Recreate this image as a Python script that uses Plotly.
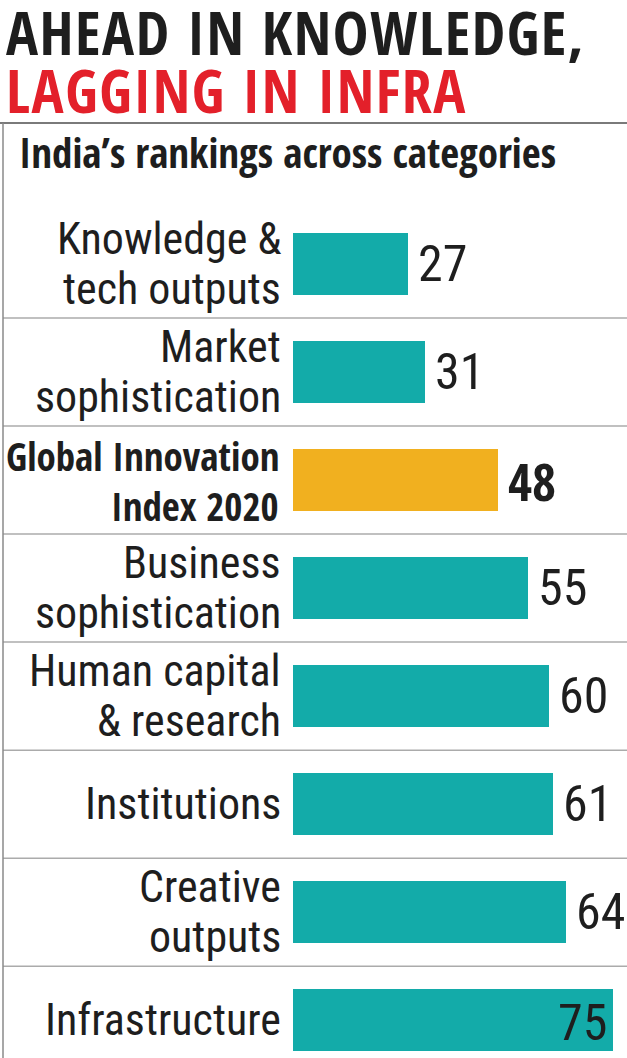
import plotly.graph_objects as go

# ---- data ----
categories = [
    "Knowledge & tech outputs",
    "Market sophistication",
    "Global Innovation Index 2020",
    "Business sophistication",
    "Human capital & research",
    "Institutions",
    "Creative outputs",
    "Infrastructure",
]
label_lines = [
    ["Knowledge &", "tech outputs"],
    ["Market", "sophistication"],
    ["Global Innovation", "Index 2020"],
    ["Business", "sophistication"],
    ["Human capital", "& research"],
    ["Institutions"],
    ["Creative", "outputs"],
    ["Infrastructure"],
]
ranks = [27, 31, 48, 55, 60, 61, 64, 75]
highlight = "Global Innovation Index 2020"
title_line1 = "AHEAD IN KNOWLEDGE,"
title_line2 = "LAGGING IN INFRA"
subtitle = "India\u2019s rankings across categories"

# ---- style / layout ----
W, H = 627, 1058
TOP = 210
TEAL = "#13aba9"
GOLD = "#f1b01f"
RED = "#e3202a"
INK = "#1e1e1e"
SEP = "#ababab"
PX_PER_UNIT = 320 / 75.0
ZERO_PX = 293
BOLD_FONT = "Open Sans Condensed"
REG_FONT = "Roboto Condensed"
LINE_GAP = 50


def py(p):
    return (H - p) / (H - TOP)


bar_colors = [GOLD if c == highlight else TEAL for c in categories]

fig = go.Figure(
    go.Bar(
        x=ranks,
        y=categories,
        orientation="h",
        marker=dict(color=bar_colors, line=dict(width=0)),
        width=0.574,
        hoverinfo="skip",
    )
)

annotations = []
# category labels (one annotation per line for tight line spacing)
for cat, lines in zip(categories, label_lines):
    bold = cat == highlight
    n = len(lines)
    for j, line in enumerate(lines):
        annotations.append(dict(
            x=0, y=cat, xref="x", yref="y", xanchor="right", yanchor="middle",
            xshift=-12 if bold else -10, yshift=((n - 1) / 2 - j) * LINE_GAP,
            align="right", showarrow=False,
            text=line,
            font=dict(family=BOLD_FONT if bold else REG_FONT,
                      size=39 if bold else 44, color=INK,
                      weight="bold" if bold else "normal"),
        ))
# value labels
for i, (cat, v) in enumerate(zip(categories, ranks)):
    bold = cat == highlight
    last = i == len(ranks) - 1
    annotations.append(dict(
        x=v, y=cat, xref="x", yref="y",
        xanchor="right" if last else "left", yanchor="middle",
        xshift=-4 if last else 8, yshift=-3 if last else 0,
        showarrow=False,
        text=str(v),
        font=dict(family=BOLD_FONT if bold else REG_FONT, size=52 if bold else 50, color=INK,
                  weight="bold" if bold else "normal"),
    ))
# titles
annotations += [
    dict(x=4 / W, y=py(32), xref="paper", yref="paper", xanchor="left", yanchor="middle",
         showarrow=False, text=f"<span style='letter-spacing:1.5px'>{title_line1}</span>",
         font=dict(family=BOLD_FONT, size=60, color=INK, weight="bold")),
    dict(x=4 / W, y=py(90), xref="paper", yref="paper", xanchor="left", yanchor="middle",
         showarrow=False, text=f"<span style='letter-spacing:1.5px'>{title_line2}</span>",
         font=dict(family=BOLD_FONT, size=60, color=RED, weight="bold")),
    dict(x=17 / W, y=py(152), xref="paper", yref="paper", xanchor="left", yanchor="middle",
         showarrow=False, text=subtitle,
         font=dict(family=BOLD_FONT, size=41, color=INK, weight="bold")),
]

shapes = [
    dict(type="line", xref="paper", yref="paper", x0=0, x1=1, y0=py(123), y1=py(123),
         line=dict(color="#7a7a7a", width=2)),
    dict(type="line", xref="paper", yref="paper", x0=3 / W, x1=3 / W, y0=py(123), y1=0,
         line=dict(color="#8a8a8a", width=1.5)),
]
for k in range(len(categories) - 1):
    shapes.append(dict(type="line", xref="paper", yref="y", x0=3 / W, x1=1,
                       y0=k + 0.5, y1=k + 0.5, line=dict(color=SEP, width=1.5), layer="below"))

fig.update_layout(
    width=W, height=H,
    margin=dict(l=0, r=0, t=TOP, b=0, pad=0),
    paper_bgcolor="white", plot_bgcolor="white",
    showlegend=False,
    annotations=annotations,
    shapes=shapes,
    bargap=0,
    xaxis=dict(range=[-ZERO_PX / PX_PER_UNIT, (W - ZERO_PX) / PX_PER_UNIT], visible=False,
               fixedrange=True),
    yaxis=dict(type="category", categoryorder="array", categoryarray=categories,
               range=[7.35, -0.5], visible=False, fixedrange=True),
)

fig.write_html("out.html", config={"displayModeBar": False},
               post_script="document.body.style.margin='0';")
